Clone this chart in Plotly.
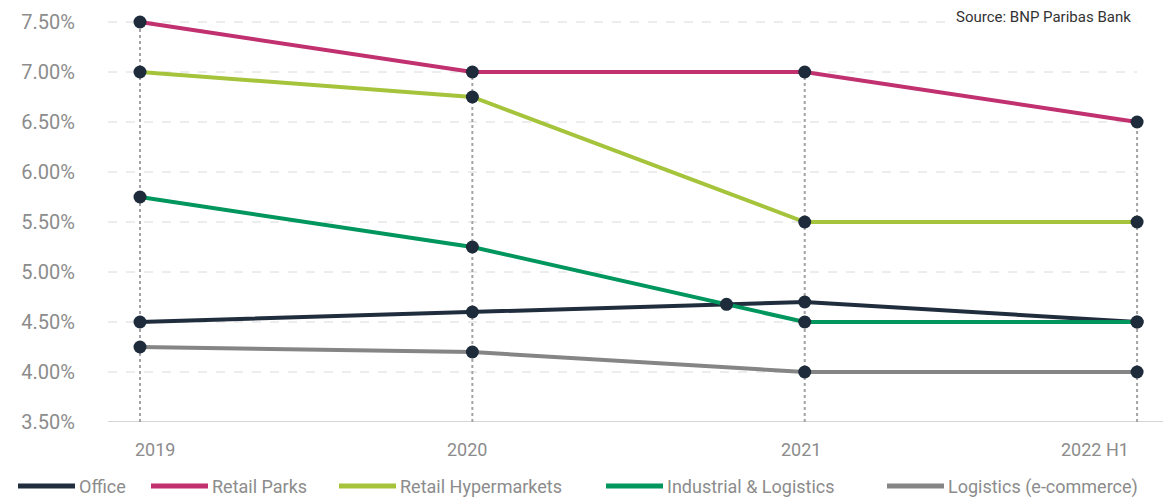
import plotly.graph_objects as go

# --- data -------------------------------------------------------------
periods = ["2019", "2020", "2021", "2022 H1"]
office = [4.50, 4.60, 4.70, 4.50]
retail_parks = [7.50, 7.00, 7.00, 6.50]
retail_hypermarkets = [7.00, 6.75, 5.50, 5.50]
industrial_logistics = [5.75, 5.25, 4.50, 4.50]
logistics_ecommerce = [4.25, 4.20, 4.00, 4.00]
y_ticks = [3.5, 4.0, 4.5, 5.0, 5.5, 6.0, 6.5, 7.0, 7.5]

series = [
    ("Office", office, "#1f2d3d"),
    ("Retail Parks", retail_parks, "#c1306f"),
    ("Retail Hypermarkets", retail_hypermarkets, "#a5c43b"),
    ("Industrial & Logistics", industrial_logistics, "#00965e"),
    ("Logistics (e-commerce)", logistics_ecommerce, "#858585"),
]

FONT = "Roboto, 'Open Sans', sans-serif"
LABEL_GREY = "#8c8c8c"
MARKER = "#1d2b3a"

W, H = 1171, 498
L, R, T, B = 108, 8, 2, 76
plot_w, plot_h = W - L - R, H - T - B

x = list(range(len(periods)))
x_range = [-0.0963, 3.078]
y_range = [3.5, 7.7]


def px_to_paper_x(px):
    return (px - L) / plot_w


def px_to_paper_y(py):
    return (H - B - py) / plot_h


fig = go.Figure()

# lines first, markers on top of every line
for name, vals, color in series:
    fig.add_trace(go.Scatter(
        x=x, y=vals, mode="lines", name=name,
        line=dict(color=color, width=4), showlegend=False,
        hoverinfo="skip", cliponaxis=False,
    ))

for name, vals, color in series:
    fig.add_trace(go.Scatter(
        x=x, y=vals, mode="markers", name=name,
        marker=dict(color=MARKER, size=13), showlegend=False,
        cliponaxis=False,
    ))

# crossing point of Office and Industrial & Logistics between 2020 and 2021
a0, a1 = office[1], office[2]
b0, b1 = industrial_logistics[1], industrial_logistics[2]
t = (b0 - a0) / ((a1 - a0) - (b1 - b0))
fig.add_trace(go.Scatter(
    x=[1 + t], y=[a0 + t * (a1 - a0)], mode="markers",
    marker=dict(color=MARKER, size=13), showlegend=False, cliponaxis=False,
))

shapes = []
# dashed horizontal gridlines up to the last period
for v in y_ticks[1:]:
    shapes.append(dict(
        type="line", xref="paper", yref="y", x0=0, x1=px_to_paper_x(1137),
        y0=v, y1=v, line=dict(color="#dadada", width=1, dash="dash"),
        layer="below",
    ))
# solid baseline
shapes.append(dict(
    type="line", xref="paper", yref="y", x0=0, x1=1, y0=y_ticks[0], y1=y_ticks[0],
    line=dict(color="#d4d4d4", width=2), layer="below",
))
# dotted drop lines from the highest value in each period
for i in x:
    top = max(vals[i] for _, vals, _ in series)
    shapes.append(dict(
        type="line", xref="x", yref="y", x0=i, x1=i, y0=y_ticks[0], y1=top,
        line=dict(color="#a3a3a3", width=2, dash="dot"), layer="below",
    ))

annotations = []
# period labels under the axis
anchors = ["left", "center", "center", "right"]
shifts = [-7, -5, -4, -6]
for i, lab in enumerate(periods):
    annotations.append(dict(
        x=i, xref="x", y=px_to_paper_y(449), yref="paper", text=lab,
        showarrow=False, xanchor=anchors[i], yanchor="middle", xshift=shifts[i],
        font=dict(family=FONT, size=18, color=LABEL_GREY),
    ))

# source note
annotations.append(dict(
    x=px_to_paper_x(1137), xref="paper", y=px_to_paper_y(17), yref="paper",
    text="Source: BNP Paribas Bank", showarrow=False, xanchor="right",
    yanchor="middle", bgcolor="white", borderpad=5,
    font=dict(family=FONT, size=15, color="#333333"),
))

# legend row: swatch line + label
legend_x = [18, 151, 339, 606, 887]
swatch_len = 57
legend_y = px_to_paper_y(486)
for (name, _, color), lx in zip(series, legend_x):
    shapes.append(dict(
        type="line", xref="paper", yref="paper",
        x0=px_to_paper_x(lx), x1=px_to_paper_x(lx + swatch_len),
        y0=legend_y, y1=legend_y, line=dict(color=color, width=5),
    ))
    annotations.append(dict(
        x=px_to_paper_x(lx + swatch_len + 2), xref="paper",
        y=px_to_paper_y(487), yref="paper", text=name, showarrow=False,
        xanchor="left", yanchor="middle",
        font=dict(family=FONT, size=18, color=LABEL_GREY),
    ))

fig.update_layout(
    width=W, height=H,
    margin=dict(l=L, r=R, t=T, b=B),
    paper_bgcolor="white", plot_bgcolor="white",
    showlegend=False,
    xaxis=dict(range=x_range, showgrid=False, zeroline=False,
               showticklabels=False, ticks="", showline=False, fixedrange=True),
    yaxis=dict(range=y_range, tickvals=y_ticks,
               ticktext=[f"{v:.2f}%" for v in y_ticks],
               showgrid=False, zeroline=False, showline=False, ticks="",
               ticklabelstandoff=32,
               tickfont=dict(family=FONT, size=20, color=LABEL_GREY)),
    shapes=shapes, annotations=annotations,
)

fig.write_html("out.html")
